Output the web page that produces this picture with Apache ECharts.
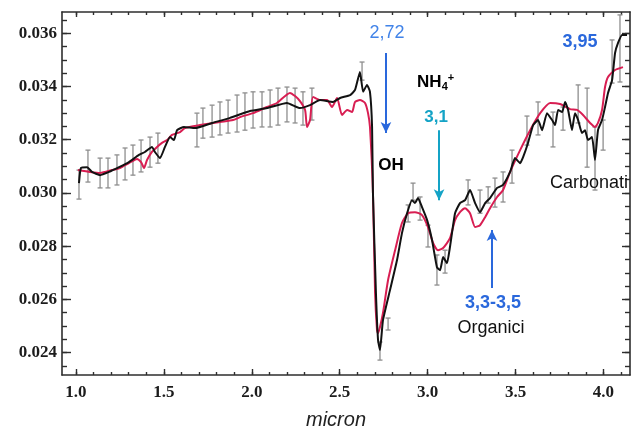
<!DOCTYPE html>
<html>
<head>
<meta charset="utf-8">
<script src="https://cdn.jsdelivr.net/npm/echarts@6/dist/echarts.min.js"></script>
<style>
  html, body { margin: 0; padding: 0; background: #ffffff; }
  #chart { width: 635px; height: 432px; }
</style>
</head>
<body>
<div id="chart"></div>
<script>
// Observed reflectance spectrum (black)
const obsMicron = [1.017, 1.028, 1.063, 1.091, 1.137, 1.188, 1.245, 1.301, 1.358, 1.392, 1.432, 1.449, 1.478, 1.506, 1.535, 1.557, 1.575, 1.614, 1.677, 1.774, 1.876, 1.990, 2.086, 2.200, 2.274, 2.331, 2.388, 2.462, 2.502, 2.559, 2.587, 2.615, 2.633, 2.655, 2.672, 2.684, 2.689, 2.706, 2.718, 2.729, 2.746, 2.786, 2.826, 2.854, 2.883, 2.911, 2.928, 2.945, 2.968, 2.997, 3.025, 3.053, 3.071, 3.088, 3.110, 3.127, 3.156, 3.184, 3.213, 3.241, 3.270, 3.298, 3.327, 3.355, 3.395, 3.429, 3.469, 3.497, 3.526, 3.543, 3.571, 3.600, 3.628, 3.651, 3.679, 3.708, 3.725, 3.742, 3.765, 3.782, 3.799, 3.821, 3.838, 3.856, 3.878, 3.895, 3.912, 3.935, 3.952, 3.969, 3.992, 4.009, 4.026, 4.049, 4.066, 4.083, 4.106, 4.134];
const obsReflect = [0.03037, 0.03094, 0.03097, 0.03079, 0.03067, 0.03079, 0.03097, 0.03116, 0.03143, 0.03154, 0.03173, 0.03154, 0.03131, 0.03173, 0.03210, 0.03199, 0.03236, 0.03248, 0.03244, 0.03263, 0.03282, 0.03308, 0.03319, 0.03338, 0.03319, 0.03330, 0.03349, 0.03342, 0.03357, 0.03368, 0.03387, 0.03455, 0.03380, 0.03406, 0.03380, 0.03248, 0.03000, 0.02624, 0.02447, 0.02410, 0.02522, 0.02635, 0.02748, 0.02849, 0.02924, 0.02973, 0.02962, 0.02981, 0.02947, 0.02898, 0.02823, 0.02721, 0.02710, 0.02759, 0.02736, 0.02797, 0.02924, 0.02962, 0.02973, 0.03011, 0.02962, 0.02928, 0.02962, 0.02981, 0.03019, 0.03030, 0.03079, 0.03131, 0.03112, 0.03135, 0.03188, 0.03255, 0.03274, 0.03236, 0.03300, 0.03274, 0.03255, 0.03312, 0.03304, 0.03342, 0.03312, 0.03236, 0.03300, 0.03274, 0.03225, 0.03236, 0.03199, 0.03210, 0.03124, 0.03236, 0.03274, 0.03323, 0.03376, 0.03424, 0.03526, 0.03564, 0.03594, 0.03594];

// Model spectrum (red)
const modelMicron = [1.011, 1.080, 1.137, 1.205, 1.250, 1.301, 1.347, 1.370, 1.387, 1.404, 1.432, 1.461, 1.489, 1.518, 1.546, 1.592, 1.620, 1.705, 1.819, 1.893, 1.933, 2.007, 2.086, 2.143, 2.217, 2.246, 2.274, 2.303, 2.314, 2.331, 2.348, 2.388, 2.428, 2.456, 2.485, 2.513, 2.542, 2.570, 2.587, 2.615, 2.644, 2.661, 2.672, 2.689, 2.701, 2.712, 2.718, 2.729, 2.746, 2.775, 2.815, 2.854, 2.889, 2.928, 2.968, 3.002, 3.031, 3.059, 3.088, 3.127, 3.156, 3.184, 3.213, 3.241, 3.270, 3.298, 3.327, 3.355, 3.395, 3.429, 3.469, 3.526, 3.583, 3.640, 3.697, 3.753, 3.810, 3.850, 3.884, 3.924, 3.952, 3.969, 3.992, 4.009, 4.026, 4.066, 4.111];
const modelReflect = [0.03086, 0.03079, 0.03075, 0.03086, 0.03094, 0.03112, 0.03128, 0.03116, 0.03094, 0.03124, 0.03154, 0.03173, 0.03188, 0.03199, 0.03218, 0.03229, 0.03244, 0.03255, 0.03267, 0.03274, 0.03285, 0.03300, 0.03323, 0.03338, 0.03376, 0.03364, 0.03345, 0.03312, 0.03248, 0.03274, 0.03361, 0.03349, 0.03349, 0.03323, 0.03357, 0.03293, 0.03312, 0.03304, 0.03342, 0.03349, 0.03338, 0.03300, 0.03248, 0.03000, 0.02624, 0.02485, 0.02473, 0.02496, 0.02549, 0.02673, 0.02785, 0.02887, 0.02924, 0.02928, 0.02917, 0.02872, 0.02812, 0.02785, 0.02793, 0.02830, 0.02898, 0.02928, 0.02943, 0.02924, 0.02872, 0.02879, 0.02909, 0.02943, 0.02985, 0.03011, 0.03079, 0.03161, 0.03236, 0.03300, 0.03338, 0.03334, 0.03315, 0.03312, 0.03293, 0.03263, 0.03248, 0.03263, 0.03312, 0.03398, 0.03436, 0.03462, 0.03473];

// Uncertainty bars on the observed spectrum
const errMicron = [1.017, 1.068, 1.137, 1.182, 1.233, 1.279, 1.324, 1.370, 1.421, 1.466, 1.688, 1.722, 1.774, 1.819, 1.865, 1.916, 1.961, 2.007, 2.058, 2.104, 2.149, 2.200, 2.246, 2.291, 2.342, 2.627, 2.729, 2.775, 2.889, 2.917, 2.957, 3.002, 3.053, 3.099, 3.230, 3.298, 3.344, 3.383, 3.429, 3.480, 3.565, 3.628, 3.713, 3.770, 3.856, 3.907, 3.952, 3.998, 4.049, 4.094];
const errLow = [0.02977, 0.03041, 0.03019, 0.03019, 0.03030, 0.03049, 0.03067, 0.03079, 0.03097, 0.03112, 0.03173, 0.03206, 0.03210, 0.03218, 0.03225, 0.03229, 0.03236, 0.03244, 0.03248, 0.03248, 0.03255, 0.03267, 0.03263, 0.03255, 0.03274, 0.03424, 0.02372, 0.02485, 0.02891, 0.02973, 0.02898, 0.02797, 0.02654, 0.02699, 0.02955, 0.02924, 0.02962, 0.02947, 0.02966, 0.03037, 0.03180, 0.03218, 0.03173, 0.03236, 0.03263, 0.03097, 0.03011, 0.03161, 0.03413, 0.03417];
const errHigh = [0.03086, 0.03161, 0.03131, 0.03131, 0.03143, 0.03169, 0.03180, 0.03199, 0.03210, 0.03225, 0.03300, 0.03319, 0.03330, 0.03342, 0.03349, 0.03368, 0.03376, 0.03380, 0.03380, 0.03387, 0.03394, 0.03398, 0.03394, 0.03380, 0.03394, 0.03492, 0.02440, 0.02530, 0.02955, 0.03037, 0.02985, 0.02879, 0.02767, 0.02785, 0.03049, 0.03011, 0.03023, 0.03056, 0.03079, 0.03161, 0.03289, 0.03342, 0.03304, 0.03323, 0.03406, 0.03394, 0.03248, 0.03274, 0.03575, 0.03669];

// Axis ticks
const xTicks = [1.0, 1.5, 2.0, 2.5, 3.0, 3.5, 4.0];
const xMinorTicks = [1.0, 1.1, 1.2, 1.3, 1.4, 1.5, 1.6, 1.7, 1.8, 1.9, 2.0, 2.1, 2.2, 2.3, 2.4, 2.5, 2.6, 2.7, 2.8, 2.9, 3.0, 3.1, 3.2, 3.3, 3.4, 3.5, 3.6, 3.7, 3.8, 3.9, 4.0, 4.1];
const yTicks = [0.024, 0.026, 0.028, 0.030, 0.032, 0.034, 0.036];
const yMinorTicks = [0.0235, 0.024, 0.0245, 0.025, 0.0255, 0.026, 0.0265, 0.027, 0.0275, 0.028, 0.0285, 0.029, 0.0295, 0.030, 0.0305, 0.031, 0.0315, 0.032, 0.0325, 0.033, 0.0335, 0.034, 0.0345, 0.035, 0.0355, 0.036, 0.0365];

// Band annotations: text anchors and arrows, in axis units
const noteTexts = ['2,72', 'NH4+', '3,1', 'OH', '3,95', 'Carbonati', '3,3-3,5', 'Organici'];
const noteMicron = [2.769, 2.940, 3.048, 2.792, 3.867, 3.696, 3.372, 3.361];
const noteReflect = [0.03601, 0.03417, 0.03285, 0.03105, 0.03567, 0.03037, 0.02586, 0.02492];
const arrowMicron = [2.763, 3.065, 3.366];
const arrowFrom = [0.03526, 0.03236, 0.02643];
const arrowTo = [0.03225, 0.02973, 0.02861];

const X_MIN = 0.9204, X_MAX = 4.151;
const Y_MIN = 0.02316, Y_MAX = 0.0368;

const AXIS_COLOR = '#2e2e2e';
const LABEL_FONT = { fontFamily: '"Liberation Serif", "Times New Roman", serif', fontWeight: 'bold', fontSize: 17, color: '#1c1c1c' };

function xLayer(position, values, len, withLabels, withLine) {
  return {
    type: 'value', position, min: X_MIN, max: X_MAX, gridIndex: 0,
    axisLine: { show: withLine, onZero: false, lineStyle: { color: AXIS_COLOR, width: 1.6 } },
    axisTick: { show: true, inside: true, length: len, customValues: values, lineStyle: { color: AXIS_COLOR, width: 1.4 } },
    axisLabel: withLabels ? Object.assign({ show: true, margin: 9, customValues: values, formatter: v => v.toFixed(1) }, LABEL_FONT) : { show: false },
    splitLine: { show: false }
  };
}
function yLayer(position, values, len, withLabels, withLine) {
  return {
    type: 'value', position, min: Y_MIN, max: Y_MAX, gridIndex: 0,
    axisLine: { show: withLine, onZero: false, lineStyle: { color: AXIS_COLOR, width: 1.6 } },
    axisTick: { show: true, inside: true, length: len, customValues: values, lineStyle: { color: AXIS_COLOR, width: 1.4 } },
    axisLabel: withLabels ? Object.assign({ show: true, margin: 5, customValues: values, formatter: v => v.toFixed(3) }, LABEL_FONT) : { show: false },
    splitLine: { show: false }
  };
}

const pair = (xs, ys) => xs.map((x, i) => [x, ys[i]]);

const blue = '#2a68dc';
const lightBlue = '#4183e8';
const cyan = '#14a3c6';
const SANS = '"Liberation Sans", Arial, sans-serif';
const noteStyles = [
  { color: lightBlue, fontWeight: 'normal', fontSize: 18 },
  { color: '#000', fontWeight: 'bold', fontSize: 17, align: 'left', rich: true },
  { color: cyan, fontWeight: 'bold', fontSize: 17 },
  { color: '#000', fontWeight: 'bold', fontSize: 17 },
  { color: blue, fontWeight: 'bold', fontSize: 18 },
  { color: '#111', fontWeight: 'normal', fontSize: 18, align: 'left' },
  { color: blue, fontWeight: 'bold', fontSize: 18 },
  { color: '#111', fontWeight: 'normal', fontSize: 18 }
];
const arrowColors = [blue, cyan, blue];

const noteData = noteTexts.map((t, i) => {
  const s = noteStyles[i];
  const label = {
    show: true, position: 'inside', align: s.align || 'center', verticalAlign: 'middle',
    fontFamily: SANS, opacity: 1,
    fontSize: s.fontSize, fontWeight: s.fontWeight, color: s.color
  };
  if (s.rich) {
    label.formatter = '{m|NH}{s|4}{p|+}';
    label.rich = {
      m: { fontSize: 17, fontWeight: 'bold', color: '#000', fontFamily: SANS, lineHeight: 22 },
      s: { fontSize: 11, fontWeight: 'bold', color: '#000', fontFamily: SANS, padding: [10, 0, 0, 0] },
      p: { fontSize: 11, fontWeight: 'bold', color: '#000', fontFamily: SANS, padding: [0, 0, 8, 0] }
    };
  } else {
    label.formatter = t;
  }
  return { value: [noteMicron[i], noteReflect[i]], label, itemStyle: { opacity: 1 } };
});

const arrowData = arrowMicron.map((x, i) => [
  { coord: [x, arrowFrom[i]], lineStyle: { color: arrowColors[i], width: 2, type: 'solid', opacity: 1 } },
  { coord: [x, arrowTo[i]] }
]);

const chart = echarts.init(document.getElementById('chart'), null, { renderer: 'canvas' });
chart.setOption({
  animation: false,
  backgroundColor: '#ffffff',
  grid: { left: 62, right: 5, top: 12, bottom: 57, containLabel: false },
  xAxis: [
    xLayer('bottom', xTicks, 6, true, true),
    xLayer('bottom', xMinorTicks, 3, false, false),
    xLayer('top', xTicks, 5, false, true),
    xLayer('top', xMinorTicks, 3, false, false)
  ],
  yAxis: [
    yLayer('left', yTicks, 9, true, true),
    yLayer('left', yMinorTicks, 5, false, false),
    yLayer('right', yTicks, 8, false, true),
    yLayer('right', yMinorTicks, 5, false, false)
  ],
  graphic: [{
    type: 'text', left: 306, top: 410,
    style: { text: 'micron', font: 'italic 20px "Liberation Sans", Arial, sans-serif', fill: '#222' }
  }],
  series: [
    {
      name: 'errors', type: 'custom', xAxisIndex: 0, yAxisIndex: 0,
      data: errMicron.map((x, i) => [x, errLow[i], errHigh[i]]),
      encode: { x: 0, y: [1, 2] },
      z: 1,
      renderItem: (params, api) => {
        const x = api.value(0);
        const lo = api.coord([x, api.value(1)]);
        const hi = api.coord([x, api.value(2)]);
        const cap = 2.5;
        const st = { stroke: '#8e8e8e', lineWidth: 1.3 };
        return {
          type: 'group',
          children: [
            { type: 'line', shape: { x1: lo[0], y1: lo[1], x2: hi[0], y2: hi[1] }, style: st },
            { type: 'line', shape: { x1: hi[0] - cap, y1: hi[1], x2: hi[0] + cap, y2: hi[1] }, style: st },
            { type: 'line', shape: { x1: lo[0] - cap, y1: lo[1], x2: lo[0] + cap, y2: lo[1] }, style: st }
          ]
        };
      }
    },
    {
      name: 'model', type: 'line', xAxisIndex: 0, yAxisIndex: 0,
      data: pair(modelMicron, modelReflect),
      showSymbol: false, smooth: 0.2, z: 2,
      lineStyle: { color: '#d81e52', width: 2 }
    },
    {
      name: 'observed', type: 'line', xAxisIndex: 0, yAxisIndex: 0,
      data: pair(obsMicron, obsReflect),
      showSymbol: false, smooth: 0.15, z: 3,
      lineStyle: { color: '#121212', width: 2 }
    },
    {
      name: 'notes', type: 'scatter', xAxisIndex: 0, yAxisIndex: 0,
      symbolSize: 0, z: 5, silent: true,
      itemStyle: { opacity: 1 },
      data: noteData,
      markLine: {
        silent: true, animation: false,
        symbol: ['none', 'arrow'], symbolSize: [8, 11],
        label: { show: false },
        data: arrowData
      }
    }
  ]
});
</script>
</body>
</html>
